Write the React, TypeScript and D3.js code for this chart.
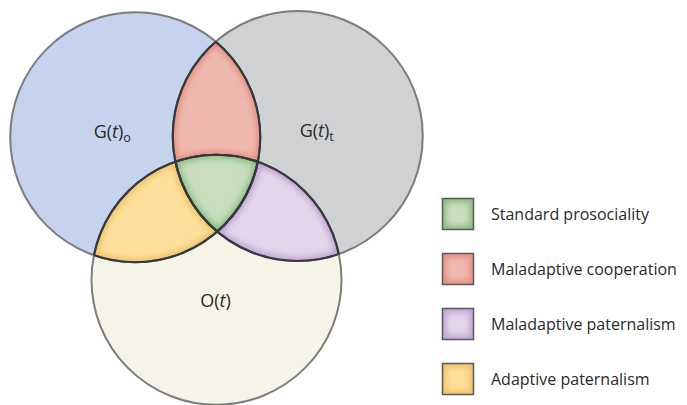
import React from "react";
import * as d3 from "d3";

// the three sets
const setIds = ["A", "B", "C"];
const setLabels = [
  { main: "G(", ital: "t", close: ")", sub: "o" },
  { main: "G(", ital: "t", close: ")", sub: "t" },
  { main: "O(", ital: "t", close: ")", sub: "" }
];
const setFills = ["#c5d4ec", "#d0d1d3", "#f6f3e7"];

// overlap regions (which sets they belong to)
const regionSets = [["A", "B", "C"], ["A", "B"], ["B", "C"], ["A", "C"]];
const regionNames = [
  "Standard prosociality",
  "Maladaptive cooperation",
  "Maladaptive paternalism",
  "Adaptive paternalism"
];
const regionFills = ["#c9dfbf", "#efb9b0", "#e3d6ea", "#fde09b"];
const regionEdges = ["#86b879", "#e58a78", "#bf9ad0", "#efbd62"];

// layout in unit coordinates (circle radius = 1)
const unitCenters = [[-0.65, -0.57], [0.65, -0.58], [0, 0.57]];

const width = 687;
const height = 405;
const r = 125;

const x = d3.scaleLinear().domain([0, 1]).range([216.5, 216.5 + r]);
const y = d3.scaleLinear().domain([0, 1]).range([208.5, 208.5 + r]);

const legendY = d3.scalePoint().domain(regionNames).range([198, 363]);

const centers = unitCenters.map(([u, v]) => [x(u), y(v)]);

function Label({ i }: { i: number }) {
  const l = setLabels[i];
  const [cx, cy] = centers[i];
  const pos = [
    [cx - 23, cy + 1],
    [cx + 19, cy + 1],
    [cx - 1, cy + 27]
  ][i];
  return (
    <text x={pos[0]} y={pos[1]} textAnchor="middle" fontSize={18} fill="#2a2a2a">
      {l.main}
      <tspan fontStyle="italic">{l.ital}</tspan>
      {l.close}
      {l.sub && (
        <tspan fontSize={12.5} dy={4}>
          {l.sub}
        </tspan>
      )}
    </text>
  );
}

export default function App() {
  return (
    <svg
      width={width}
      height={height}
      style={{ position: "absolute", left: 0, top: 0, fontFamily: "'Open Sans', sans-serif" }}
    >
      <defs>
        {setIds.map((s, i) => (
          <clipPath id={"clip" + s} key={s}>
            <circle cx={centers[i][0]} cy={centers[i][1]} r={r} />
          </clipPath>
        ))}
        {setIds.map((s, i) => (
          <mask id={"not" + s} key={s} maskUnits="userSpaceOnUse" x={0} y={0} width={width} height={height}>
            <rect width={width} height={height} fill="#fff" />
            <circle cx={centers[i][0]} cy={centers[i][1]} r={r} fill="#000" />
          </mask>
        ))}
        <filter id="glow" x="-20%" y="-20%" width="140%" height="140%">
          <feGaussianBlur stdDeviation="3" />
        </filter>
        <clipPath id="legendClip">
          <rect width={32} height={32} />
        </clipPath>
      </defs>

      {/* base circles */}
      {setIds.map((s, i) => (
        <circle key={s} cx={centers[i][0]} cy={centers[i][1]} r={r} fill={setFills[i]} />
      ))}

      {/* overlap regions */}
      {regionSets.map((sets, k) => {
        const outside = setIds.filter(s => !sets.includes(s));
        let inner: any = (
          <g>
            <rect width={width} height={height} fill={regionFills[k]} />
            {setIds.map((s, i) => (
              <circle
                key={s}
                cx={centers[i][0]}
                cy={centers[i][1]}
                r={r}
                fill="none"
                stroke={regionEdges[k]}
                strokeWidth={7}
                filter="url(#glow)"
              />
            ))}
          </g>
        );
        outside.forEach(s => {
          inner = <g mask={`url(#not${s})`}>{inner}</g>;
        });
        sets.forEach(s => {
          inner = <g clipPath={`url(#clip${s})`}>{inner}</g>;
        });
        return <g key={k}>{inner}</g>;
      })}

      {/* outer gray outlines */}
      {setIds.map((s, i) => (
        <circle
          key={s}
          cx={centers[i][0]}
          cy={centers[i][1]}
          r={r}
          fill="none"
          stroke="#7b7c7e"
          strokeWidth={2}
        />
      ))}
      {/* dark outlines where a circle runs inside another */}
      {setIds.map((s, i) =>
        setIds
          .filter(o => o !== s)
          .map(o => (
            <g key={s + o} clipPath={`url(#clip${o})`}>
              <circle
                cx={centers[i][0]}
                cy={centers[i][1]}
                r={r}
                fill="none"
                stroke="#34393f"
                strokeWidth={2.2}
              />
            </g>
          ))
      )}

      {setIds.map((s, i) => (
        <Label key={s} i={i} />
      ))}

      {/* legend */}
      {regionNames.map((name, k) => {
        const ty = legendY(name) as number;
        return (
          <g key={name} transform={`translate(442,${ty})`}>
            <g clipPath="url(#legendClip)">
              <rect width={32} height={32} fill={regionFills[k]} />
              <rect
                width={32}
                height={32}
                fill="none"
                stroke={regionEdges[k]}
                strokeWidth={8}
                filter="url(#glow)"
              />
            </g>
            <rect x={0.5} y={0.5} width={31} height={31} fill="none" stroke="#555a5e" strokeWidth={1.5} />
            <text x={49} y={16} dy="0.35em" fontSize={16} fill="#2a2a2a">
              {name}
            </text>
          </g>
        );
      })}
    </svg>
  );
}
